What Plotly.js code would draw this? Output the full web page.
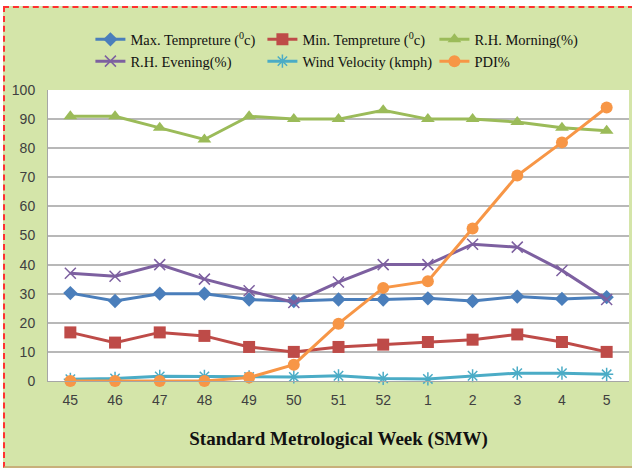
<!DOCTYPE html>
<html>
<head>
<meta charset="utf-8">
<script src="https://cdn.plot.ly/plotly-3.0.1.min.js"></script>
<style>
  html, body { margin: 0; padding: 0; background: #ffffff; overflow: hidden; }
  #frame { position: absolute; left: 3px; top: 6px; width: 629px; height: 458px;
           border-top: 2px dashed #ff3030; border-left: 2px dashed #ff3030;
           border-bottom: 2px solid #c8b07a; background: #d4e5a9; }
  #chart { width: 629px; height: 458px; }
</style>
</head>
<body>
<div id="frame"><div id="chart"></div></div>
<script>
const weeks = ['45','46','47','48','49','50','51','52','1','2','3','4','5'];
const maxTemp = [30.2, 27.5, 30, 30, 28, 27.5, 28, 28, 28.4, 27.5, 29, 28.2, 28.8];
const minTemp = [16.7, 13.2, 16.7, 15.5, 11.7, 10, 11.7, 12.5, 13.4, 14.2, 16, 13.4, 10];
const rhMorning = [91, 91, 87, 83, 91, 90, 90, 93, 90, 90, 89, 87, 86];
const rhEvening = [37, 36, 40, 35, 31, 27, 34, 40, 40, 47, 46, 38, 28];
const windVel = [0.6, 0.9, 1.6, 1.6, 1.4, 1.4, 1.8, 0.9, 0.7, 1.8, 2.7, 2.7, 2.3];
const pdi = [0, 0, 0, 0, 1.2, 5.6, 19.7, 32, 34.3, 52.4, 70.6, 82, 94];

const names = ['Max. Tempreture (<sup>0</sup>c)', 'Min. Tempreture (<sup>0</sup>c)', 'R.H. Morning(%)',
               'R.H. Evening(%)', 'Wind Velocity (kmph)', 'PDI%'];
const series = [maxTemp, minTemp, rhMorning, rhEvening, windVel, pdi];
const colors = ['#4a7ebb', '#be4b48', '#9bbb59', '#7d60a0', '#4bacc6', '#f79646'];
const symbols = ['diamond', 'square', 'triangle-up', 'x-thin-open', 'asterisk-open', 'circle'];
const sizes = [11, 12, 12, 11, 11, 12];

const traces = series.map((ys, i) => ({
  type: 'scatter', mode: 'lines+markers', x: weeks, y: ys, name: names[i],
  cliponaxis: false,
  line: { color: colors[i], width: 3 },
  marker: { color: colors[i], symbol: symbols[i], size: sizes[i],
            line: { color: colors[i], width: (i === 3 || i === 4) ? 1.5 : 0 } }
}));

const layout = {
  width: 629, height: 458,
  margin: { l: 43, r: 5, t: 82, b: 85 },
  paper_bgcolor: 'rgba(0,0,0,0)',
  plot_bgcolor: '#ffffff',
  showlegend: true,
  legend: {
    orientation: 'h', x: 0.073, xanchor: 'left', y: 1.229, yanchor: 'top',
    entrywidth: 127, entrywidthmode: 'pixels', bgcolor: 'rgba(0,0,0,0)',
    font: { family: 'Liberation Serif, serif', size: 14.5, color: '#111' },
    itemwidth: 30, tracegroupgap: 0
  },
  xaxis: {
    type: 'category', range: [-0.5, 12.5], showgrid: false,
    showline: true, linecolor: '#a6a6a6', linewidth: 1,
    ticks: '', ticklabelstandoff: 6,
    tickfont: { family: 'Liberation Sans Narrow, Liberation Sans, sans-serif', size: 14, color: '#404040' },
    title: { text: '<b>Standard Metrological Week (SMW)</b>', standoff: 24,
             font: { family: 'Liberation Serif, serif', size: 19, color: '#111' } }
  },
  yaxis: {
    range: [0, 100], dtick: 10, showgrid: true, gridcolor: '#b8b8b8', gridwidth: 2,
    showline: true, linecolor: '#a6a6a6', linewidth: 1, zeroline: false,
    ticks: '', ticklabelstandoff: 9,
    tickfont: { family: 'Liberation Sans Narrow, Liberation Sans, sans-serif', size: 14, color: '#404040' }
  }
};

Plotly.newPlot('chart', traces, layout, { displayModeBar: false, staticPlot: true });
</script>
</body>
</html>
